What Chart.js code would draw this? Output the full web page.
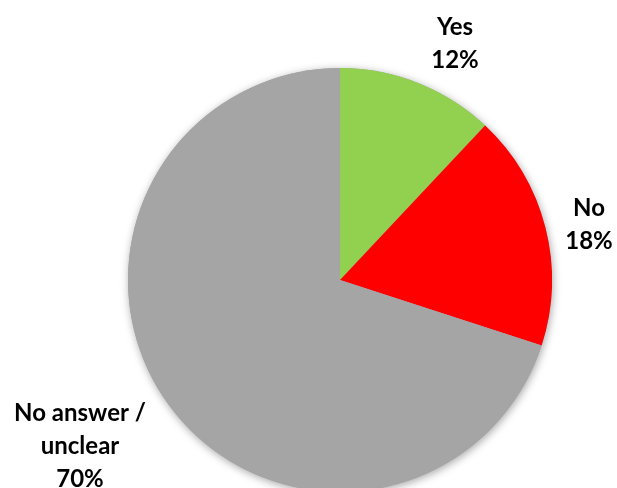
<!DOCTYPE html>
<html>
<head>
<meta charset="utf-8">
<script src="https://cdn.jsdelivr.net/npm/chart.js@4.4.1/dist/chart.umd.min.js"></script>
<style>
  html, body { margin: 0; padding: 0; background: #fff; overflow: hidden; width: 617px; height: 488px; }
  #wrap { position: absolute; left: 0; top: 0; width: 617px; height: 600px; }
</style>
</head>
<body>
<div id="wrap"><canvas id="c" width="617" height="600"></canvas></div>
<script>
const categories = ['Yes', 'No', ['No answer /', 'unclear']];
const values = [12, 18, 70];
const colors = ['#92D050', '#FF0000', '#A5A5A5'];

// label block centre offsets relative to the pie centre (layout only)
const labelOffsets = [[115, -236], [249, -55], [-260, 166]];

const shadowPlugin = {
  id: 'pieShadow',
  beforeDatasetsDraw(chart) {
    const arc = chart.getDatasetMeta(0).data[0];
    if (!arc) return;
    const ctx = chart.ctx;
    ctx.save();
    ctx.shadowColor = 'rgba(0,0,0,0.35)';
    ctx.shadowBlur = 8;
    ctx.shadowOffsetX = 1;
    ctx.shadowOffsetY = 2;
    ctx.fillStyle = '#A5A5A5';
    ctx.beginPath();
    ctx.arc(arc.x, arc.y, arc.outerRadius, 0, Math.PI * 2);
    ctx.fill();
    ctx.restore();
  }
};

const labelPlugin = {
  id: 'pieLabels',
  afterDatasetsDraw(chart) {
    const meta = chart.getDatasetMeta(0);
    const ctx = chart.ctx;
    const total = values.reduce((a, b) => a + b, 0);
    ctx.save();
    ctx.font = 'bold 24px Lato';
    ctx.fillStyle = '#000';
    ctx.textAlign = 'center';
    ctx.textBaseline = 'middle';
    const lh = 33;
    meta.data.forEach((arc, i) => {
      const cat = categories[i];
      const lines = (Array.isArray(cat) ? cat.slice() : [cat]);
      lines.push(Math.round(values[i] / total * 100) + '%');
      const cx = arc.x + labelOffsets[i][0];
      const cy = arc.y + labelOffsets[i][1];
      const y0 = cy - (lines.length - 1) * lh / 2;
      lines.forEach((t, k) => ctx.fillText(t, cx, y0 + k * lh));
    });
    ctx.restore();
  }
};

new Chart(document.getElementById('c'), {
  type: 'pie',
  data: {
    labels: categories,
    datasets: [{
      data: values,
      backgroundColor: colors,
      borderWidth: 0
    }]
  },
  options: {
    responsive: false,
    animation: false,
    devicePixelRatio: 1,
    layout: { padding: { left: 128, right: 65, top: 68, bottom: 108 } },
    plugins: {
      legend: { display: false },
      tooltip: { enabled: false }
    }
  },
  plugins: [shadowPlugin, labelPlugin]
});
</script>
</body>
</html>
